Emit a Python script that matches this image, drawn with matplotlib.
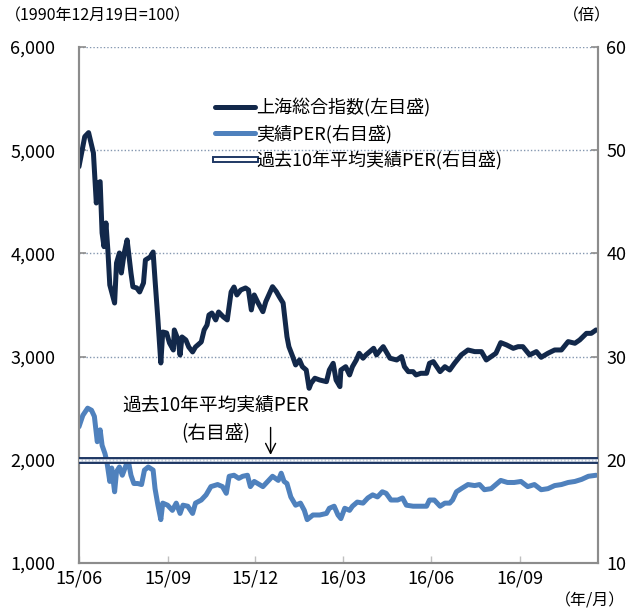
import pandas as pd
import matplotlib
matplotlib.use('Agg')
import matplotlib.pyplot as plt
from matplotlib.ticker import FuncFormatter
from matplotlib.lines import Line2D
from matplotlib.legend_handler import HandlerTuple

plt.rcParams['font.family'] = ['Noto Sans CJK JP', 'DejaVu Sans']

# Shanghai Composite Index (left axis)
sse_dates = [
    '2015-06-01', '2015-06-07', '2015-06-11', '2015-06-14', '2015-06-16', '2015-06-19',
    '2015-06-21', '2015-06-23', '2015-06-25', '2015-06-27', '2015-06-29', '2015-07-01',
    '2015-07-03', '2015-07-08', '2015-07-10', '2015-07-13', '2015-07-15', '2015-07-18',
    '2015-07-21', '2015-07-25', '2015-07-27', '2015-07-31', '2015-08-03', '2015-08-07',
    '2015-08-09', '2015-08-14', '2015-08-17', '2015-08-19', '2015-08-22', '2015-08-25',
    '2015-08-27', '2015-08-31', '2015-09-03', '2015-09-07', '2015-09-08', '2015-09-12',
    '2015-09-14', '2015-09-16', '2015-09-20', '2015-09-23', '2015-09-27', '2015-09-30',
    '2015-10-06', '2015-10-09', '2015-10-12', '2015-10-14', '2015-10-17', '2015-10-21',
    '2015-10-24', '2015-10-29', '2015-11-02', '2015-11-06', '2015-11-09', '2015-11-12',
    '2015-11-16', '2015-11-21', '2015-11-24', '2015-11-27', '2015-11-30', '2015-12-04',
    '2015-12-09', '2015-12-12', '2015-12-16', '2015-12-19', '2015-12-23', '2015-12-26',
    '2015-12-30', '2016-01-01', '2016-01-03', '2016-01-05', '2016-01-09', '2016-01-12',
    '2016-01-16', '2016-01-19', '2016-01-23', '2016-01-26', '2016-01-28', '2016-02-01',
    '2016-02-06', '2016-02-13', '2016-02-16', '2016-02-20', '2016-02-23', '2016-02-27',
    '2016-02-28', '2016-03-04', '2016-03-08', '2016-03-11', '2016-03-15', '2016-03-18',
    '2016-03-22', '2016-03-25', '2016-03-29', '2016-04-02', '2016-04-05', '2016-04-09',
    '2016-04-12', '2016-04-16', '2016-04-19', '2016-04-26', '2016-05-01', '2016-05-04',
    '2016-05-08', '2016-05-13', '2016-05-16', '2016-05-21', '2016-05-27', '2016-05-30',
    '2016-06-03', '2016-06-10', '2016-06-15', '2016-06-20', '2016-06-25', '2016-07-02',
    '2016-07-09', '2016-07-16', '2016-07-23', '2016-07-28', '2016-08-02', '2016-08-07',
    '2016-08-12', '2016-08-18', '2016-08-25', '2016-08-30', '2016-09-04', '2016-09-11',
    '2016-09-18', '2016-09-23', '2016-09-30', '2016-10-07', '2016-10-14', '2016-10-21',
    '2016-10-28', '2016-11-02', '2016-11-09', '2016-11-14', '2016-11-19',
]
sse_values = [
    4840, 5131, 5170, 5050, 4973, 4488,
    4682, 4695, 4198, 4065, 4295, 4033,
    3694, 3519, 3907, 4004, 3810, 4004,
    4130, 3810, 3676, 3665, 3626, 3713,
    3936, 3965, 4013, 3742, 3355, 2938,
    3238, 3229, 3132, 3064, 3258, 3161,
    3015, 3190, 3161, 3093, 3045, 3093,
    3142, 3258, 3306, 3403, 3422, 3355,
    3432, 3384, 3355, 3626, 3674, 3597,
    3645, 3665, 3645, 3452, 3597, 3520,
    3435, 3532, 3616, 3677, 3629, 3580,
    3519, 3355, 3193, 3096, 2999, 2919,
    2967, 2902, 2870, 2693, 2741, 2790,
    2773, 2757, 2870, 2935, 2773, 2709,
    2870, 2902, 2822, 2902, 2967, 3032,
    2984, 3016, 3048, 3080, 3016, 3064,
    3096, 3032, 2984, 2967, 3000, 2902,
    2854, 2854, 2822, 2838, 2838, 2935,
    2951, 2854, 2902, 2870, 2935, 3016,
    3064, 3048, 3048, 2967, 3000, 3032,
    3135, 3113, 3080, 3096, 3096, 3016,
    3048, 2993, 3032, 3064, 3064, 3145,
    3129, 3161, 3225, 3225, 3258,
]

# Trailing PER (right axis)
per_dates = [
    '2015-06-01', '2015-06-05', '2015-06-10', '2015-06-14', '2015-06-17', '2015-06-20',
    '2015-06-23', '2015-06-25', '2015-06-28', '2015-06-30', '2015-07-03', '2015-07-05',
    '2015-07-08', '2015-07-10', '2015-07-13', '2015-07-16', '2015-07-20', '2015-07-22',
    '2015-07-25', '2015-07-28', '2015-08-01', '2015-08-05', '2015-08-08', '2015-08-12',
    '2015-08-17', '2015-08-19', '2015-08-22', '2015-08-25', '2015-08-27', '2015-09-01',
    '2015-09-06', '2015-09-10', '2015-09-14', '2015-09-17', '2015-09-22', '2015-09-27',
    '2015-09-30', '2015-10-06', '2015-10-11', '2015-10-16', '2015-10-23', '2015-10-28',
    '2015-11-01', '2015-11-04', '2015-11-09', '2015-11-14', '2015-11-18', '2015-11-23',
    '2015-11-26', '2015-11-30', '2015-12-09', '2015-12-14', '2015-12-19', '2015-12-25',
    '2015-12-28', '2015-12-31', '2016-01-03', '2016-01-07', '2016-01-12', '2016-01-17',
    '2016-01-21', '2016-01-24', '2016-01-30', '2016-02-06', '2016-02-13', '2016-02-16',
    '2016-02-21', '2016-02-25', '2016-02-28', '2016-03-03', '2016-03-08', '2016-03-11',
    '2016-03-16', '2016-03-22', '2016-03-27', '2016-04-01', '2016-04-06', '2016-04-11',
    '2016-04-15', '2016-04-20', '2016-04-27', '2016-05-02', '2016-05-06', '2016-05-13',
    '2016-05-20', '2016-05-27', '2016-05-30', '2016-06-04', '2016-06-10', '2016-06-15',
    '2016-06-20', '2016-06-23', '2016-06-27', '2016-07-02', '2016-07-09', '2016-07-16',
    '2016-07-21', '2016-07-26', '2016-08-02', '2016-08-07', '2016-08-12', '2016-08-19',
    '2016-08-26', '2016-09-02', '2016-09-09', '2016-09-16', '2016-09-23', '2016-09-30',
    '2016-10-07', '2016-10-14', '2016-10-21', '2016-10-28', '2016-11-04', '2016-11-11',
    '2016-11-19',
]
per_values = [
    23.2, 24.3, 25.0, 24.8, 24.2, 21.75,
    22.9, 21.4, 20.6, 19.8, 17.9, 19.2,
    16.9, 18.85, 19.3, 18.5, 19.5, 20.0,
    18.5, 17.7, 17.7, 17.6, 19.0, 19.3,
    19.0, 17.2, 15.6, 14.2, 15.8, 15.6,
    15.1, 15.8, 14.8, 15.6, 15.5, 14.8,
    15.8, 16.1, 16.6, 17.4, 17.6, 17.4,
    16.75, 18.4, 18.5, 18.2, 18.4, 18.5,
    17.4, 17.9, 17.4, 17.9, 18.4, 18.0,
    18.7, 17.9, 17.7, 16.4, 15.6, 15.8,
    15.1, 14.2, 14.65, 14.65, 14.8, 15.3,
    15.5, 14.65, 14.3, 15.3, 15.1, 15.5,
    15.9, 15.8, 16.3, 16.6, 16.4, 16.9,
    16.75, 16.1, 16.1, 16.3, 15.6, 15.5,
    15.5, 15.5, 16.1, 16.1, 15.5, 15.8,
    15.8, 16.1, 16.9, 17.2, 17.6, 17.5,
    17.6, 17.1, 17.2, 17.6, 18.0, 17.8,
    17.8, 17.9, 17.4, 17.6, 17.1, 17.2,
    17.5, 17.6, 17.8, 17.9, 18.1, 18.4,
    18.5,
]

per_10y_avg = 20.0

tick_dates = ['2015-06-01', '2015-09-01', '2015-12-01', '2016-03-01', '2016-06-01', '2016-09-01']
tick_labels = ['15/06', '15/09', '15/12', '16/03', '16/06', '16/09']

sse_x = pd.to_datetime(sse_dates)
per_x = pd.to_datetime(per_dates)

navy = '#12284A'
blue = '#4F81BD'
avg_dark = '#1F3864'
grey = '#8C8C8C'

fig = plt.figure(figsize=(6.41, 6.14), dpi=100)
ax = fig.add_axes([0.1232, 0.0831, 0.8097, 0.8404])
ax2 = ax.twinx()

l1, = ax.plot(sse_x, sse_values, color=navy, lw=3.6, solid_capstyle='round',
              solid_joinstyle='round', zorder=3)
l2, = ax2.plot(per_x, per_values, color=blue, lw=3.6, solid_capstyle='round',
               solid_joinstyle='round', zorder=2)
# double-line style for the 10-year average
ax2.axhline(per_10y_avg, color=avg_dark, lw=5.0, zorder=3)
ax2.axhline(per_10y_avg, color='#C3CDDB', lw=2.0, zorder=4)
ax2.axhline(per_10y_avg, color='white', lw=1.0, ls=(0, (1.5, 1)), zorder=5)

ax.set_xlim(pd.Timestamp('2015-06-01'), pd.Timestamp('2016-11-21'))
ax.set_ylim(1000, 6000)
ax2.set_ylim(10, 60)
ax.set_yticks(range(1000, 6001, 1000))
ax2.set_yticks(range(10, 61, 10))
ax.yaxis.set_major_formatter(FuncFormatter(lambda v, p: f'{int(v):,}'))
ax.set_xticks(pd.to_datetime(tick_dates))
ax.set_xticklabels(tick_labels)

ax.grid(axis='y', color='#8497B0', ls=(0, (1, 1.5)), lw=1)
for a in (ax, ax2):
    for s in ('left', 'right', 'bottom'):
        a.spines[s].set_color(grey)
        a.spines[s].set_linewidth(1.5)
    a.spines['top'].set_visible(False)

ax.tick_params(axis='y', direction='in', length=5, width=1.2, color=grey, labelsize=13, pad=17)
ax.tick_params(axis='x', direction='in', length=5, width=1, color='#BFBFBF', labelsize=13, pad=5)
ax2.tick_params(axis='y', direction='in', length=5, width=1.2, color=grey, labelsize=13, pad=6)

# legend
avg_handle = (Line2D([], [], color=avg_dark, lw=5.0),
              Line2D([], [], color='white', lw=2.2))
ax2.legend([l1, l2, avg_handle],
           ['上海総合指数(左目盛)', '実績PER(右目盛)', '過去10年平均実績PER(右目盛)'],
           handler_map={tuple: HandlerTuple(ndivide=1)},
           loc='upper left', bbox_to_anchor=(0.262, 0.900), frameon=False,
           fontsize=13, handlelength=2.2, handletextpad=0.08, labelspacing=0.38,
           borderpad=0, borderaxespad=0)

# annotation for the 10-year average line
ax.text(pd.Timestamp('2015-10-21'), 2390, '過去10年平均実績PER\n(右目盛)',
        ha='center', va='center', fontsize=13.5, linespacing=1.4)
ax.annotate('', xy=(pd.Timestamp('2015-12-17'), 2020), xytext=(pd.Timestamp('2015-12-17'), 2340),
            arrowprops=dict(arrowstyle='->', color='black', lw=1, mutation_scale=18))

fig.text(0.008, 1 - 16 / 614, '（1990年12月19日=100）', fontsize=11.5, va='center', ha='left')
fig.text(587 / 641, 1 - 16 / 614, '（倍）', fontsize=11.5, va='center', ha='center')
fig.text(590 / 641, 1 - 601 / 614, '（年/月）', fontsize=11.5, va='center', ha='center')

plt.savefig('out.png', dpi=100)
